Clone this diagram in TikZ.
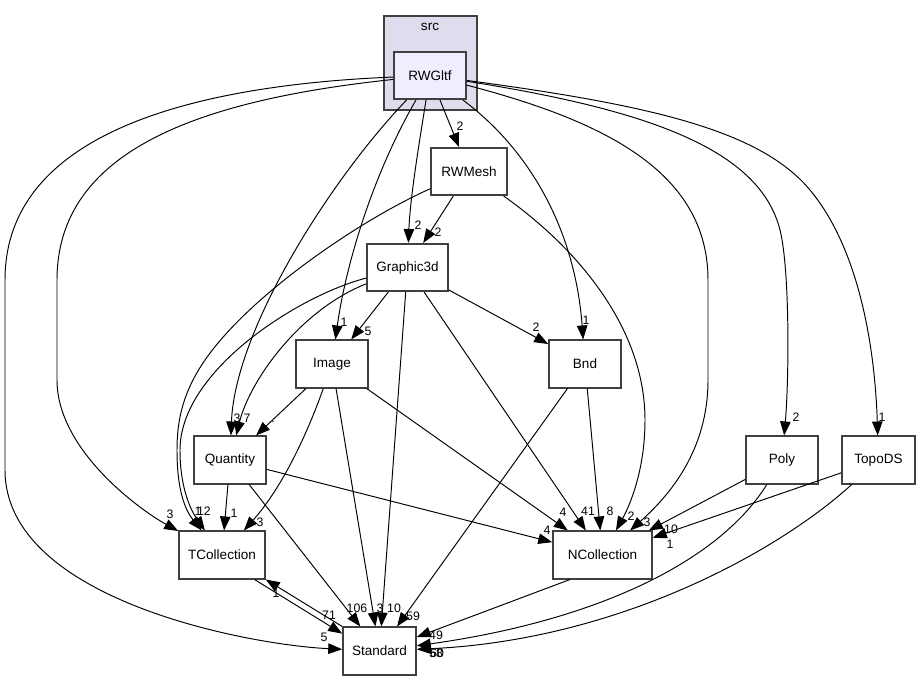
\documentclass[tikz,border=0pt]{standalone}
\usepackage{fontspec}
\setmainfont{Liberation Sans}
\usetikzlibrary{arrows.meta}

\definecolor{clusterfill}{HTML}{DDDDEE}
\definecolor{mainfill}{HTML}{EEEEFF}
\definecolor{boxline}{HTML}{404040}

\tikzset{
  dirbox/.style={draw=boxline, line width=0.9pt, fill=white, rectangle,
    minimum height=0.95cm, inner sep=0pt, font=\fontsize{7.7}{8}\selectfont},
  dep/.style={-{Triangle[length=2.8mm,width=2.1mm]}, line width=0.55pt},
  lbl/.style={inner sep=0pt, font=\fontsize{7}{7}\selectfont},
}

\begin{document}
\begin{tikzpicture}[x=0.02cm, y=-0.02cm]
  \useasboundingbox (0,0) rectangle (920,681);

  % cluster src
  \node[draw=boxline, line width=0.9pt, fill=clusterfill, minimum width=1.86cm, minimum height=1.88cm] (src) at (430.5,63) {};
  \node[lbl, font=\fontsize{7.7}{8}\selectfont] (srcname) at (430,27) {src};

  \node[dirbox, fill=mainfill, minimum width=1.44cm] (RWGltf) at (430,75.5) {RWGltf};
  \node[dirbox, minimum width=1.52cm] (RWMesh) at (469,171.5) {RWMesh};
  \node[dirbox, minimum width=1.62cm] (Graphic3d) at (407.5,267.5) {Graphic3d};
  \node[dirbox, minimum width=1.44cm] (Image) at (332,364) {Image};
  \node[dirbox, minimum width=1.44cm] (Bnd) at (585,364) {Bnd};
  \node[dirbox, minimum width=1.44cm] (Quantity) at (230,460) {Quantity};
  \node[dirbox, minimum width=1.44cm] (Poly) at (782,460) {Poly};
  \node[dirbox, minimum width=1.46cm] (TopoDS) at (878.5,460) {TopoDS};
  \node[dirbox, minimum width=1.72cm] (TCollection) at (222,555) {TCollection};
  \node[dirbox, minimum width=1.98cm] (NCollection) at (602.5,555) {NCollection};
  \node[dirbox, minimum width=1.46cm] (Standard) at (379.5,651) {Standard};

  % from RWGltf
  \draw[dep] (RWGltf) .. controls (200,85) and (5,130) .. (5,280) -- (5,470) .. controls (5,600) and (250,645) .. (Standard);
  \draw[dep] (RWGltf) .. controls (200,100) and (57,150) .. (57,280) -- (57,380) .. controls (57,450) and (140,510) .. (TCollection);
  \draw[dep] (RWGltf) .. controls (330,180) and (235,330) .. (Quantity);
  \draw[dep] (RWGltf) .. controls (370,180) and (345,270) .. (Image);
  \draw[dep] (RWGltf) .. controls (418,150) and (410,200) .. (Graphic3d);
  \draw[dep] (RWGltf) -- (RWMesh);
  \draw[dep] (RWGltf) .. controls (530,150) and (575,230) .. (Bnd);
  \draw[dep] (RWGltf) .. controls (600,120) and (708,170) .. (708,280) -- (708,380) .. controls (708,450) and (670,495) .. (NCollection);
  \draw[dep] (RWGltf) .. controls (650,110) and (760,150) .. (780,230) .. controls (790,270) and (789,380) .. (Poly);
  \draw[dep] (RWGltf) .. controls (650,105) and (760,130) .. (810,190) .. controls (860,250) and (875,350) .. (TopoDS);

  % from RWMesh
  \draw[dep] (RWMesh) -- (Graphic3d);
  \draw[dep] (RWMesh) .. controls (360,220) and (250,295) .. (205,360) .. controls (183,392) and (177,420) .. (177,450) .. controls (177,490) and (185,510) .. (TCollection);
  \draw[dep] (RWMesh) .. controls (580,250) and (645,330) .. (645,420) .. controls (645,470) and (630,505) .. (NCollection);

  % from Graphic3d
  \draw[dep] (Graphic3d) .. controls (300,295) and (180,370) .. (180,450) .. controls (180,490) and (192,512) .. (TCollection);
  \draw[dep] (Graphic3d) .. controls (300,310) and (250,380) .. (Quantity);
  \draw[dep] (Graphic3d) -- (Image);
  \draw[dep] (Graphic3d) -- (Standard);
  \draw[dep] (Graphic3d) -- (NCollection);
  \draw[dep] (Graphic3d) -- (Bnd);

  % from Image
  \draw[dep] (Image) -- (Quantity);
  \draw[dep] (Image) .. controls (305,440) and (280,490) .. (TCollection);
  \draw[dep] (Image) -- (Standard);
  \draw[dep] (Image) -- (NCollection);

  % from Bnd
  \draw[dep] (Bnd) -- (Standard);
  \draw[dep] (Bnd) -- (NCollection);

  % from Quantity
  \draw[dep] (Quantity) -- (TCollection);
  \draw[dep] (Quantity) -- (Standard);
  \draw[dep] (Quantity) -- (NCollection);

  % TCollection <-> Standard
  \draw[dep] (TCollection.-37) -- (Standard.155);
  \draw[dep] (Standard.north west) -- (TCollection.south east);

  % from Poly, TopoDS, NCollection
  \draw[dep] (Poly) -- (NCollection);
  \draw[dep] (Poly) .. controls (720,560) and (600,620) .. (Standard);
  \draw[dep] (TopoDS) -- (NCollection);
  \draw[dep] (TopoDS) .. controls (780,550) and (620,640) .. (Standard);
  \draw[dep] (NCollection.217) -- (Standard);

  % edge counts
  \node[lbl] (n1) at (460,126) {2};
  \node[lbl] (n2) at (418,225) {2};
  \node[lbl] (n3) at (438,232) {2};
  \node[lbl] (n4) at (344,322) {1};
  \node[lbl] (n5) at (368,331) {5};
  \node[lbl] (n6) at (536,327) {2};
  \node[lbl] (n7) at (586,320) {1};
  \node[lbl] (n8) at (237,418) {3};
  \node[lbl] (n9) at (247,418) {7};
  \node[lbl] (n10) at (273,422) {.};
  \node[lbl] (n11) at (796,417) {2};
  \node[lbl] (n12) at (882,417) {1};
  \node[lbl] (n13) at (170,514) {3};
  \node[lbl] (n14) at (198,511) {1};
  \node[lbl] (n15) at (204,511) {12};
  \node[lbl] (n16) at (234,513) {1};
  \node[lbl] (n17) at (260,522) {3};
  \node[lbl] (n18) at (547,530) {4};
  \node[lbl] (n19) at (563,512) {4};
  \node[lbl] (n20) at (588,511) {41};
  \node[lbl] (n21) at (610,511) {8};
  \node[lbl] (n22) at (631,516) {2};
  \node[lbl] (n23) at (647,522) {3};
  \node[lbl] (n24) at (671,529) {10};
  \node[lbl] (n25) at (670,544) {1};
  \node[lbl] (n26) at (329,615) {71};
  \node[lbl] (n27) at (276,593) {1};
  \node[lbl] (n28) at (324,637) {5};
  \node[lbl] (n29) at (357,608) {106};
  \node[lbl] (n30) at (380,608) {3};
  \node[lbl] (n31) at (394,608) {10};
  \node[lbl] (n32) at (413,616) {59};
  \node[lbl] (n33) at (436,635) {49};
  \node[lbl] (n34) at (436,653) {58};
  \node[lbl] (n35) at (437,653) {60};
\end{tikzpicture}
\end{document}
